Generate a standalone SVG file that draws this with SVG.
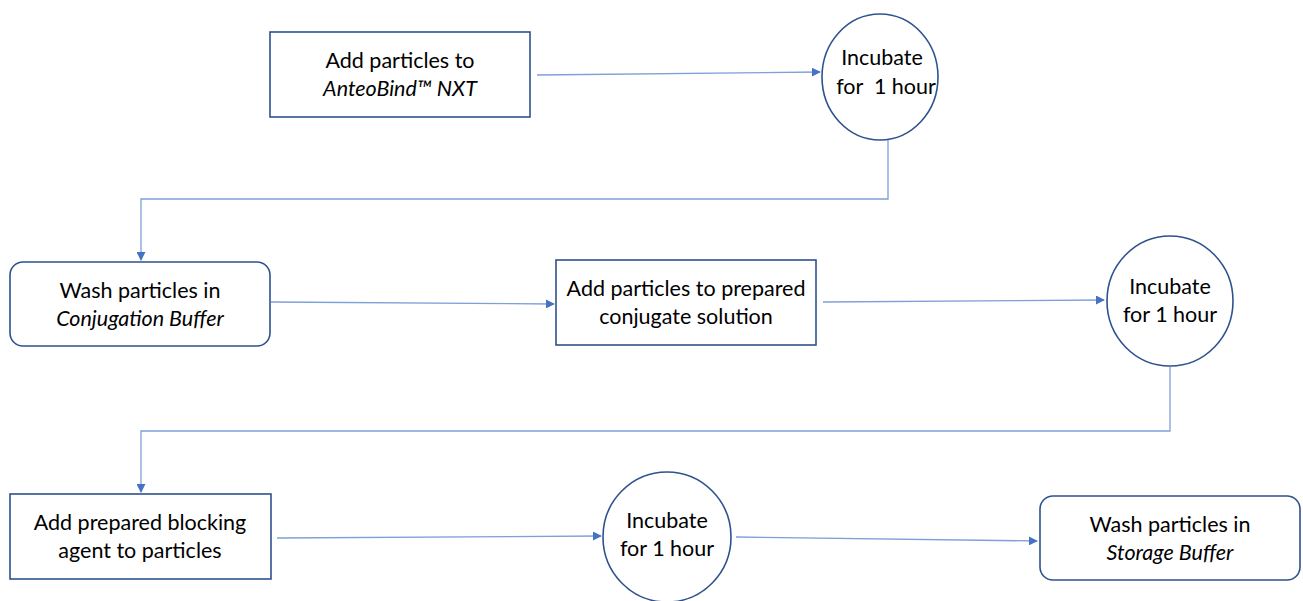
<svg xmlns="http://www.w3.org/2000/svg" width="1303" height="601" viewBox="0 0 1303 601">
<style>
.n{fill:#fff;stroke:#2F528F;stroke-width:1.6}
.t{font-family:Lato,"Open Sans","Liberation Sans",sans-serif;font-size:21.5px;fill:#000;text-anchor:middle;white-space:pre}
.i{font-style:italic}
.c{fill:none;stroke:#7F9FD8;stroke-width:1.3;marker-end:url(#a)}
</style>
<defs>
<marker id="a" viewBox="0 0 10 10" refX="9" refY="5" markerWidth="9" markerHeight="9" markerUnits="userSpaceOnUse" orient="auto">
<path d="M0,0 L10,5 L0,10 z" fill="#4472C4"/>
</marker>
</defs>
<g id="connectors">
<path class="c" d="M537,75 L820,72"/>
<path class="c" d="M888,140 V199 H141 V260"/>
<path class="c" d="M271,302 L554,304"/>
<path class="c" d="M823,302 L1104,300"/>
<path class="c" d="M1170,367 V431 H141 V492"/>
<path class="c" d="M277,538 L601,536"/>
<path class="c" d="M736,537 L1037,541"/>
</g>
<g id="n1"><rect class="n" x="270" y="32" width="260" height="85"/>
<text class="t" x="400" y="68">Add particles to</text>
<text class="t i" x="400" y="96">AnteoBind™ NXT</text></g>
<g id="n2"><ellipse class="n" cx="880" cy="77" rx="58" ry="63"/>
<text class="t" x="882" y="65">Incubate</text>
<text class="t" x="886" y="94" xml:space="preserve">for  1 hour</text></g>
<g id="n3"><rect class="n" x="10" y="262" width="260" height="84" rx="13"/>
<text class="t" x="140" y="298">Wash particles in</text>
<text class="t i" x="140" y="326">Conjugation Buffer</text></g>
<g id="n4"><rect class="n" x="556" y="260" width="260" height="85"/>
<text class="t" x="686" y="296">Add particles to prepared</text>
<text class="t" x="686" y="324">conjugate solution</text></g>
<g id="n5"><ellipse class="n" cx="1170" cy="301" rx="63" ry="65"/>
<text class="t" x="1170" y="294">Incubate</text>
<text class="t" x="1170" y="322">for 1 hour</text></g>
<g id="n6"><rect class="n" x="10" y="494" width="261" height="85"/>
<text class="t" x="140" y="530">Add prepared blocking</text>
<text class="t" x="140" y="558">agent to particles</text></g>
<g id="n7"><ellipse class="n" cx="667" cy="537" rx="64" ry="65"/>
<text class="t" x="667" y="528">Incubate</text>
<text class="t" x="667" y="556">for 1 hour</text></g>
<g id="n8"><rect class="n" x="1040" y="496" width="260" height="84" rx="13"/>
<text class="t" x="1170" y="532">Wash particles in</text>
<text class="t i" x="1170" y="560">Storage Buffer</text></g>
</svg>
